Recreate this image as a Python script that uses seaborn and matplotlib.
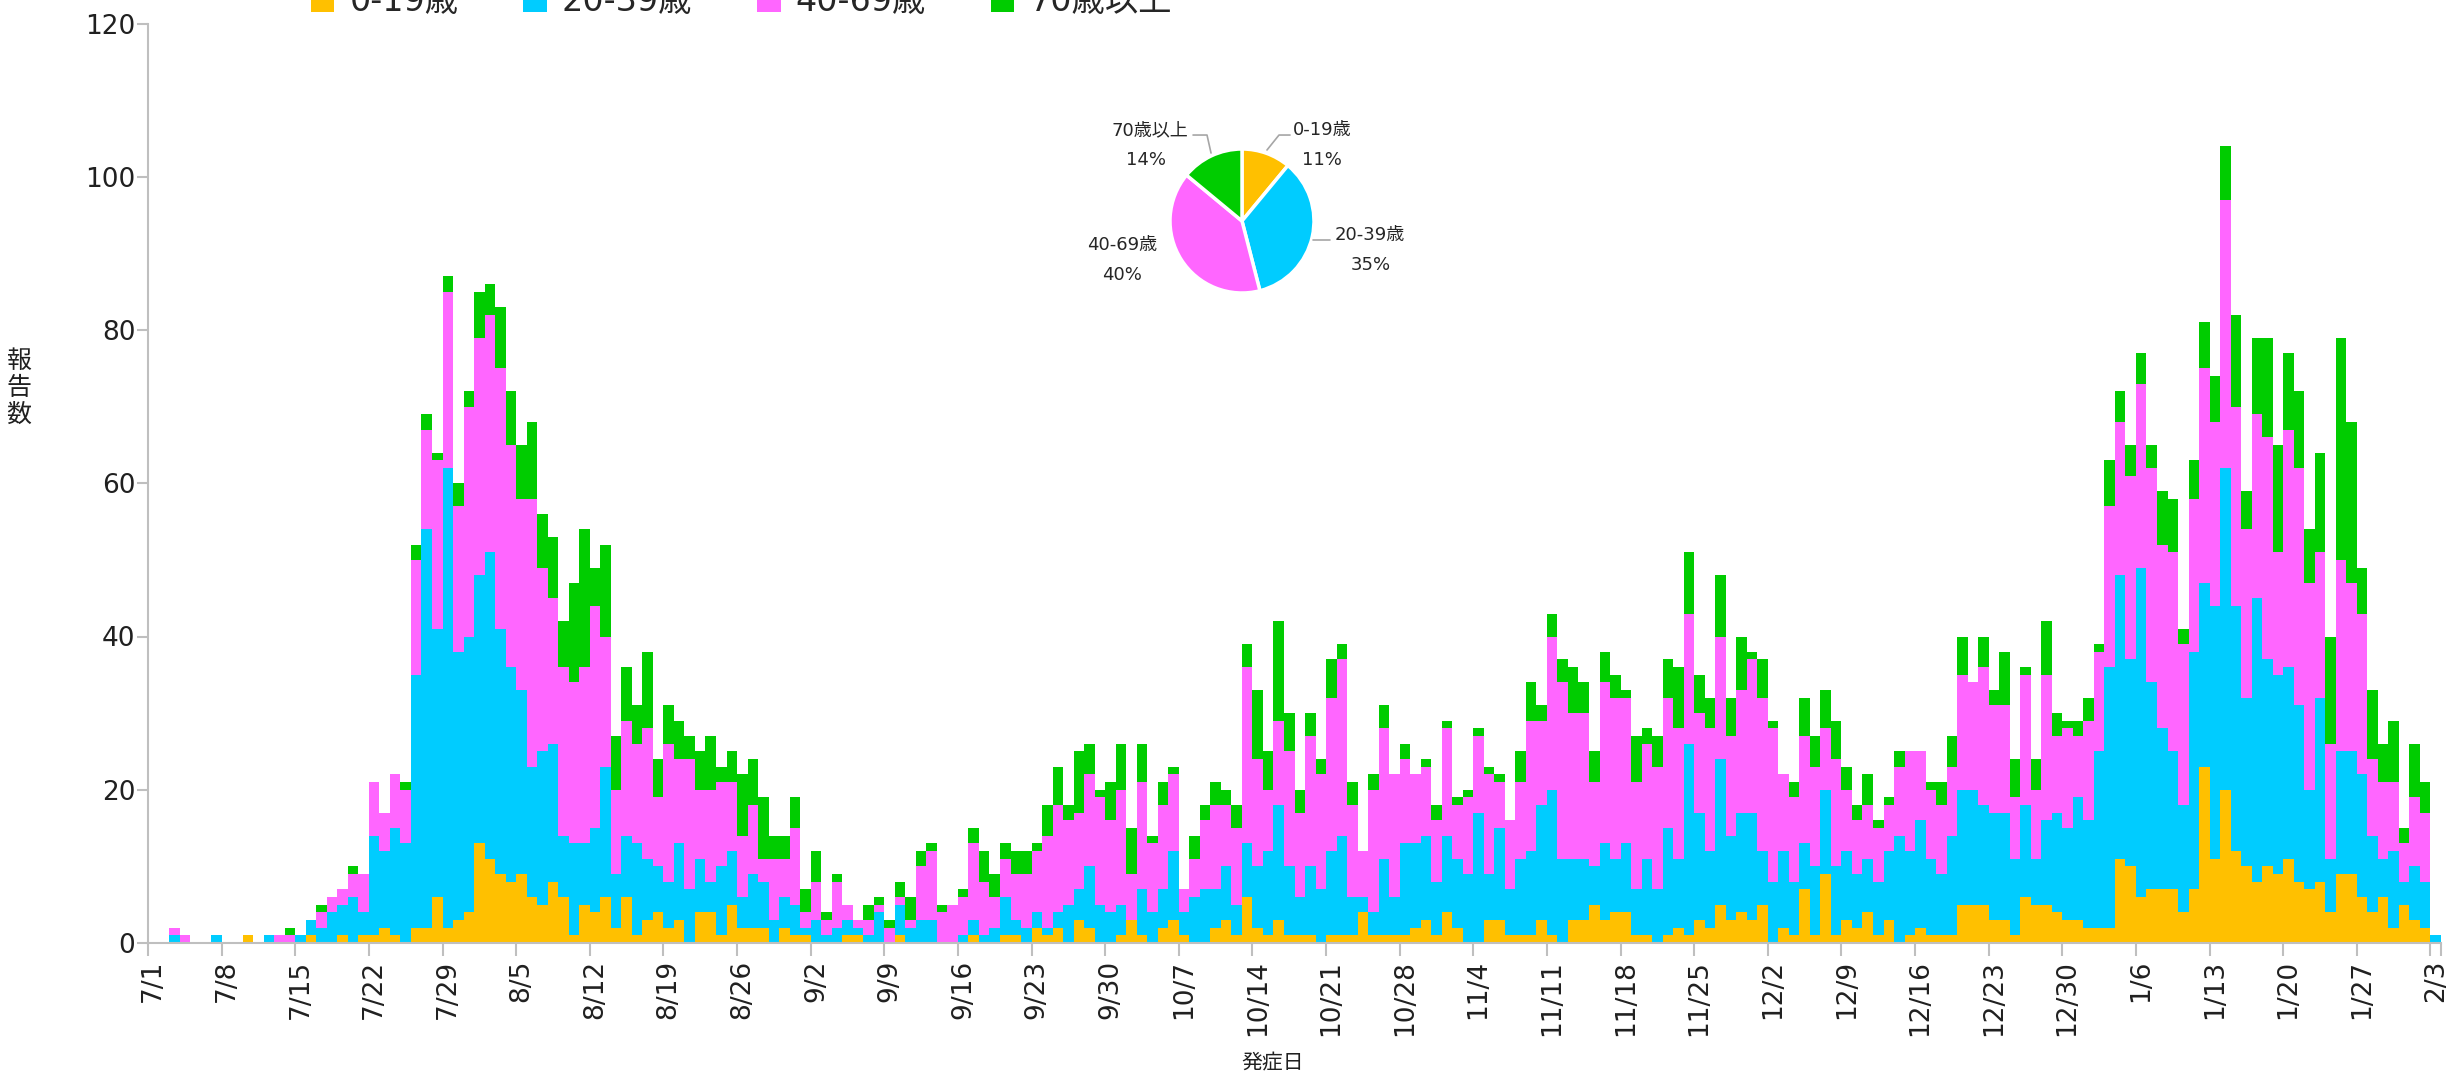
import datetime as dt
import numpy as np
import pandas as pd
import matplotlib
matplotlib.use("Agg")
import matplotlib.pyplot as plt
from matplotlib.patches import Patch
import seaborn as sns

# ---------------- data ----------------
start_date = dt.date(2020, 7, 1)
n_days = 218
dates = [start_date + dt.timedelta(days=i) for i in range(n_days)]
date_labels = [f"{d.month}/{d.day}" for d in dates]

age_groups = ["0-19歳", "20-39歳", "40-69歳", "70歳以上"]
colors = ["#FFC000", "#00CCFF", "#FF66FF", "#00CC00"]

# shares shown in the pie (percent)
pie_share = [11, 35, 40, 14]

age_0_19 = [
    0,0,0,0,0,0,0,0,0,1,0,0,0,0,0,1,0,0,1,0,1,1,
    2,1,0,2,2,6,2,3,4,13,11,9,8,9,6,5,8,6,1,5,
    4,6,2,6,1,3,4,2,3,0,4,4,1,5,2,2,2,0,2,1,
    1,0,0,0,1,1,0,0,0,1,0,0,0,0,0,0,1,0,0,1,
    1,0,2,1,2,0,3,2,0,0,1,3,1,0,2,3,1,0,0,2,
    3,1,6,2,1,3,1,1,1,0,1,1,1,4,1,1,1,1,2,3,
    1,4,2,0,0,3,3,1,1,1,3,1,0,3,3,5,3,4,4,1,
    1,0,1,2,1,3,2,5,3,4,3,5,0,2,1,7,1,9,1,3,
    2,4,1,3,0,1,2,1,1,1,5,5,5,3,3,1,6,5,5,4,
    3,3,2,2,2,11,10,6,7,7,7,4,7,23,11,20,12,10,
    8,10,9,11,8,7,8,4,9,9,6,4,6,2,5,3,2,0,
]
age_20_39 = [
    0,0,1,0,0,0,1,0,0,0,0,1,0,0,1,2,2,4,4,6,3,13,
    10,14,13,33,52,35,60,35,36,35,40,32,28,24,17,20,18,8,12,8,
    11,17,7,8,12,8,6,6,10,7,7,4,9,7,4,7,6,3,4,4,
    1,3,1,2,2,1,1,4,0,4,2,3,3,0,0,1,2,1,2,5,
    2,2,2,1,2,5,4,8,5,4,4,0,6,4,5,9,3,6,7,5,
    7,4,7,8,11,15,9,5,9,7,11,13,5,2,3,10,5,12,11,11,
    7,10,9,9,17,6,12,6,10,11,15,19,11,8,8,5,10,7,9,6,
    10,7,14,9,25,14,10,19,11,13,14,7,8,10,7,6,9,11,9,9,
    7,7,7,9,14,11,14,10,8,13,15,15,13,14,14,10,12,6,11,13,
    12,16,14,23,34,37,27,43,27,21,18,14,31,24,33,42,32,22,
    37,27,26,25,23,13,24,7,16,16,16,10,5,10,3,7,6,1,
]
age_40_69 = [
    0,0,1,1,0,0,0,0,0,0,0,0,1,1,0,0,2,2,2,3,5,7,
    5,7,7,15,13,22,23,19,30,31,31,34,29,25,35,24,19,22,21,23,
    29,17,11,15,13,17,9,18,11,17,9,12,11,9,8,9,3,8,5,10,
    2,5,2,6,2,1,2,1,2,1,1,7,9,4,5,5,10,7,4,5,
    6,7,8,12,14,11,10,12,14,12,15,6,14,9,11,10,3,5,9,11,
    8,10,23,14,8,11,15,11,17,15,20,23,12,6,16,17,16,11,9,9,
    8,14,7,10,10,13,6,9,10,17,11,20,23,19,19,11,21,21,19,14,
    15,16,17,17,17,13,16,16,13,16,20,20,20,10,11,14,13,8,14,8,
    7,7,7,6,9,13,9,9,9,9,15,14,18,14,14,8,17,9,19,10,
    13,8,13,13,21,20,24,24,28,24,26,21,20,28,24,35,26,22,
    24,29,16,31,31,27,19,15,25,22,21,10,10,9,5,9,9,0,
]
age_70_plus = [
    0,0,0,0,0,0,0,0,0,0,0,0,0,1,0,0,1,0,0,1,0,0,
    0,0,1,2,2,1,2,3,2,6,4,8,7,7,10,7,8,6,13,18,
    5,12,7,7,5,10,5,5,5,3,5,7,2,4,8,6,8,3,3,4,
    3,4,1,1,0,0,2,1,1,2,3,2,1,1,0,1,2,4,3,2,
    3,3,1,4,5,2,8,4,1,5,6,6,5,1,3,1,0,3,2,3,
    2,3,3,9,5,13,5,3,3,2,5,2,3,0,2,3,0,2,0,1,
    2,1,1,1,1,1,1,0,4,5,2,3,3,6,4,4,4,3,1,6,
    2,4,5,8,8,5,4,8,5,7,1,5,1,0,2,5,4,5,5,3,
    2,4,1,1,2,0,0,1,3,4,5,0,4,2,7,5,1,4,7,3,
    1,2,3,1,6,4,4,4,3,7,7,2,5,6,6,7,12,5,
    10,13,14,10,10,7,13,14,29,21,6,9,5,8,2,7,4,0,
]

series = [age_0_19, age_20_39, age_40_69, age_70_plus]
df = pd.DataFrame({g: s for g, s in zip(age_groups, series)})
df["day"] = np.arange(n_days)

# ---------------- style ----------------
sns.set_theme(style="white")
plt.rcParams["font.family"] = ["DejaVu Sans", "Noto Sans CJK JP"]

W, H = 2458, 1081
fig = plt.figure(figsize=(W / 100, H / 100), dpi=100)
x0, x1 = 148, 2441
y_top, y_bot = 23.5, 943
ax = fig.add_axes([x0 / W, 1 - y_bot / H, (x1 - x0) / W, (y_bot - y_top) / H])

# stacked bars via cumulative layers (drawn top layer first)
cum = df[age_groups].cumsum(axis=1)
for g, c in list(zip(age_groups, colors))[::-1]:
    sns.barplot(x=df["day"], y=cum[g], color=c, width=1.0, saturation=1,
                errorbar=None, linewidth=0, ax=ax)

ax.set_xlim(-0.5, n_days - 0.5)
ax.set_ylim(0, 120)
ax.set_yticks(np.arange(0, 121, 20))
ax.set_yticklabels([str(v) for v in range(0, 121, 20)], fontsize=19, color="#202020")
ax.set_xticks(np.arange(0, n_days, 7))
ax.set_xticklabels(date_labels[::7], rotation=90, fontsize=19, color="#202020")
ax.set_xticks(np.append(np.arange(-0.5, n_days, 7), n_days - 0.5), minor=True)
ax.tick_params(axis="x", which="major", length=0, pad=12)
ax.tick_params(axis="x", which="minor", length=9, width=1.5, color="#BFBFBF", bottom=True)
ax.tick_params(axis="y", which="major", length=8, width=1.5, color="#BFBFBF", left=True, pad=1)
for side in ["top", "right"]:
    ax.spines[side].set_visible(False)
for side in ["left", "bottom"]:
    ax.spines[side].set_color("#BFBFBF")
    ax.spines[side].set_linewidth(1.5)
ax.set_xlabel("")
ax.set_ylabel("")
ax.grid(False)

fig.text(1273 / W, 1 - 1063 / H, "発症日", ha="center", va="center", fontsize=15, color="#202020")
fig.text(19 / W, 1 - 388 / H, "報\n告\n数", ha="center", va="center", fontsize=18,
         color="#202020", linespacing=1.15)

# legend (clipped at the top as in the reference)
handles = [Patch(facecolor=c, edgecolor="none") for c in colors]
fig.legend(handles, age_groups, loc="center left", bbox_to_anchor=(311 / W, 1 - 2 / H),
           ncol=4, frameon=False, fontsize=24, handlelength=0.7, handleheight=0.7,
           handletextpad=0.45, columnspacing=1.95, borderpad=0, borderaxespad=0)

# pie inset
cx, cy, r = 1242, 221, 72
pax = fig.add_axes([(cx - r) / W, 1 - (cy + r) / H, 2 * r / W, 2 * r / H])
pax.pie(pie_share, colors=colors, startangle=90, counterclock=False,
        wedgeprops=dict(edgecolor="white", linewidth=2.5))
pax.set_xlim(-1, 1)
pax.set_ylim(-1, 1)
pax.axis("off")

lc = "#A6A6A6"
pax.plot([0.347, 0.514, 0.667], [0.986, 1.194, 1.194], color=lc, lw=1.2, clip_on=False)
pax.plot([-0.43, -0.486, -0.68], [0.944, 1.194, 1.194], color=lc, lw=1.2, clip_on=False)
pax.plot([0.986, 1.222], [-0.264, -0.264], color=lc, lw=1.2, clip_on=False)
fs = 13
pax.text(0.70, 1.264, age_groups[0], ha="left", va="center", fontsize=fs)
pax.text(0.84, 0.847, f"{pie_share[0]}%", ha="left", va="center", fontsize=fs)
pax.text(-0.74, 1.264, age_groups[3], ha="right", va="center", fontsize=fs)
pax.text(-1.33, 0.847, f"{pie_share[3]}%", ha="center", va="center", fontsize=fs)
pax.text(1.28, -0.194, age_groups[1], ha="left", va="center", fontsize=fs)
pax.text(1.79, -0.611, f"{pie_share[1]}%", ha="center", va="center", fontsize=fs)
pax.text(-1.667, -0.333, age_groups[2], ha="center", va="center", fontsize=fs)
pax.text(-1.667, -0.75, f"{pie_share[2]}%", ha="center", va="center", fontsize=fs)

fig.savefig("out.png", dpi=100)
